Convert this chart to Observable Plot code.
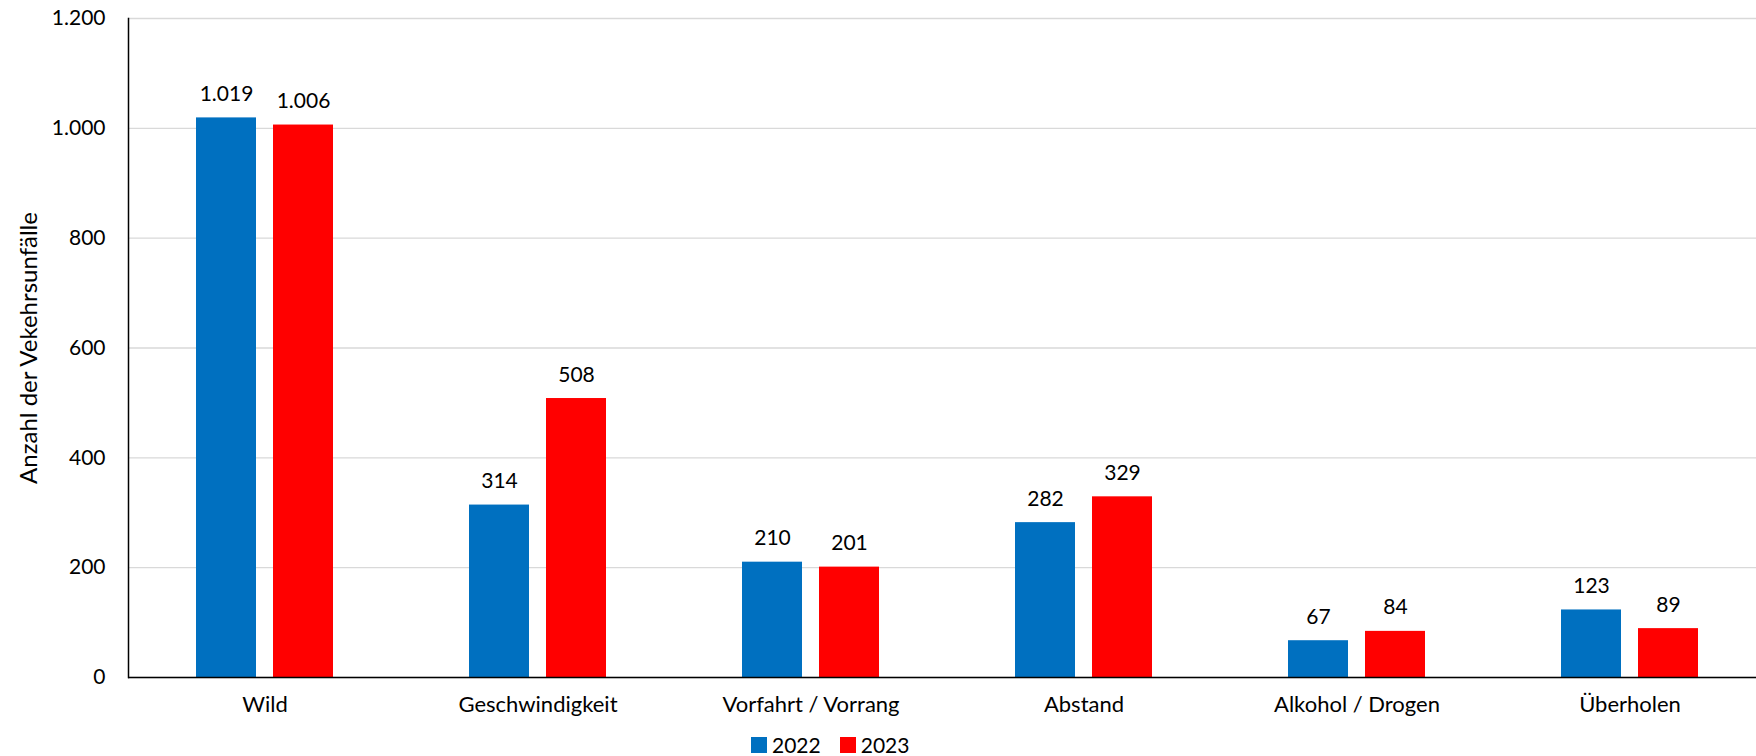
<!DOCTYPE html>
<html><head><meta charset="utf-8">
<script src="https://cdn.jsdelivr.net/npm/d3@7"></script>
<script src="https://cdn.jsdelivr.net/npm/@observablehq/plot@0.6"></script>
<style>
body{margin:0;background:#fff;font-family:Lato,"Open Sans",sans-serif;overflow:hidden;}
#wrap{position:relative;width:1756px;height:756px;overflow:hidden;}
#chart svg{max-width:none !important;}
#legend{position:absolute;top:735px;left:751px;display:flex;align-items:center;font-size:21px;color:#000;line-height:19px;height:19px;}
#legend .sw{width:16px;height:16px;display:inline-block;margin-right:5px;}
#legend .it{display:flex;align-items:center;margin-right:19px;}
</style></head><body>
<div id="wrap"><div id="chart"></div><div id="legend"></div></div>
<script>
const categories = ["Wild","Geschwindigkeit","Vorfahrt / Vorrang","Abstand","Alkohol / Drogen","Überholen"];
const years = ["2022","2023"];
const values2022 = [1019,314,210,282,67,123];
const values2023 = [1006,508,201,329,84,89];
const colors = ["#0070C0","#FF0000"];
const yTicks = [0,200,400,600,800,1000,1200];
const yTitle = "Anzahl der Vekehrsunfälle";

const de = d3.formatLocale({decimal:",",thousands:".",grouping:[3],currency:["","€"]});
const fmt = de.format(",d");

const data = [];
categories.forEach((c,i)=>{
  data.push({cat:c, year:years[0], value:values2022[i]});
  data.push({cat:c, year:years[1], value:values2023[i]});
});

const chart = Plot.plot({
  width:1768, height:730,
  marginTop:18, marginBottom:53, marginLeft:125, marginRight:0,
  style:{fontFamily:"Lato, 'Open Sans', sans-serif", fontSize:"21px", color:"#000", background:"#fff", maxWidth:"none"},
  fx:{domain:categories, paddingInner:0, paddingOuter:0},
  x:{domain:years, paddingInner:0.218, paddingOuter:0.864, axis:null},
  y:{domain:[0,1200]},
  color:{domain:years, range:colors},
  marks:[
    Plot.gridY(yTicks,{stroke:"#d9d9d9", strokeOpacity:1, strokeWidth:1.3}),
    Plot.barY(data,{fx:"cat", x:"year", y:"value", fill:"year"}),
    Plot.text(data,{fx:"cat", x:"year", y:"value", text:d=>fmt(d.value), dy:-17, lineAnchor:"bottom", fontSize:21, fill:"#000"}),
    Plot.ruleY([0],{stroke:"#000", strokeWidth:1.5}),
    Plot.frame({anchor:"left", stroke:"#000", strokeWidth:1.5, facetAnchor:"left"}),
    Plot.axisY(yTicks,{tickSize:0, tickPadding:23, tickFormat:fmt, fontSize:21, label:null}),
    Plot.text([yTitle],{frameAnchor:"left", rotate:-90, textAnchor:"middle", dx:-99, fontSize:24, fill:"#000", facetAnchor:"left"}),
    Plot.axisFx({anchor:"bottom", tickSize:0, tickPadding:19, fontSize:22, label:null})
  ]
});
document.getElementById("chart").appendChild(chart);

const lg = document.getElementById("legend");
years.forEach((y,i)=>{
  const it = document.createElement("span"); it.className="it";
  const sw = document.createElement("span"); sw.className="sw"; sw.style.background=colors[i];
  it.appendChild(sw); it.appendChild(document.createTextNode(y));
  lg.appendChild(it);
});
</script></body></html>
